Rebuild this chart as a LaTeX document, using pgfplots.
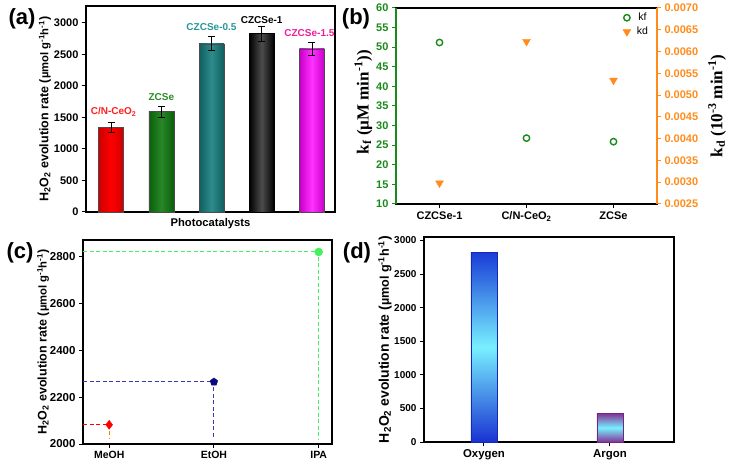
\documentclass[border=0pt]{standalone}
\usepackage{fontspec}
\setmainfont{Liberation Sans}
\newfontfamily\serifb{Liberation Serif}
\usepackage{pgfplots}
\pgfplotsset{compat=1.18}

\definecolor{kfgreen}{HTML}{1A8A1A}
\definecolor{kdorange}{HTML}{FF8C1A}
\definecolor{navyb}{HTML}{0A0A80}
\definecolor{dashblue}{HTML}{3A3AB0}
\definecolor{limeg}{HTML}{44F060}

\pgfplotsset{
  panel/.style={scale only axis, clip=false,
    axis line style={line width=1.3pt},
    major tick length=4pt,
    tick style={line width=1pt, black},
    tick align=outside, tick pos=left,
    ticklabel style={font=\fontsize{11}{12}\selectfont\bfseries},
    /pgf/number format/assume math mode=true,
    /pgf/number format/1000 sep={}},
}
\tikzset{h2label/.style={anchor=center, font=\fontsize{12.5}{14}\selectfont\bfseries}}
\newcommand{\hlabel}{H\textsubscript{2}O\textsubscript{2} evolution rate ({\fontsize{0.9em}{1em}\selectfont µmol g\textsuperscript{-1}h\textsuperscript{-1}})}

\begin{document}
\begin{tikzpicture}[x=1pt,y=1pt]
\path[use as bounding box] (0,0) rectangle (733,466);

% ---------- (a) ----------
\begin{axis}[panel, at={(86pt,254pt)}, anchor=south west,
    width=249pt, height=206pt,
    xmin=0.5, xmax=5.46, ymin=0, ymax=3265,
    ytick={0,500,...,3000}, xtick=\empty,
    ylabel={\hlabel},
    ylabel style={h2label, at={(axis description cs:-0.165,0.5)}},
    xlabel={Photocatalysts},
    xlabel style={anchor=center, at={(axis description cs:0.5,-0.055)},
      font=\fontsize{11.2}{12}\selectfont\bfseries},
    error bars/error bar style={black, line width=0.8pt},
    error bars/error mark options={rotate=90, black, mark size=3.5pt, line width=0.8pt}]
\addplot[ybar, bar shift=0pt, bar width=25pt, draw=black!70,
    left color=red!80!black, right color=red!80!black, middle color=red,
    error bars/.cd, y dir=both, y explicit]
  coordinates {(1,1347) +- (0,78)};
\addplot[ybar, bar shift=0pt, bar width=25pt, draw=black!70,
    left color={rgb,255:red,10;green,95;blue,10}, right color={rgb,255:red,10;green,95;blue,10},
    middle color={rgb,255:red,40;green,135;blue,40},
    error bars/.cd, y dir=both, y explicit]
  coordinates {(2,1590) +- (0,90)};
\addplot[ybar, bar shift=0pt, bar width=25pt, draw=black!70,
    left color={rgb,255:red,15;green,95;blue,95}, right color={rgb,255:red,15;green,95;blue,95},
    middle color={rgb,255:red,45;green,140;blue,140},
    error bars/.cd, y dir=both, y explicit]
  coordinates {(3,2667) +- (0,110)};
\addplot[ybar, bar shift=0pt, bar width=25pt, draw=black,
    left color=black, right color=black, middle color=black!70,
    error bars/.cd, y dir=both, y explicit]
  coordinates {(4,2826) +- (0,118)};
\addplot[ybar, bar shift=0pt, bar width=25pt, draw=black!70,
    left color={rgb,255:red,200;green,0;blue,200}, right color={rgb,255:red,200;green,0;blue,200},
    middle color={rgb,255:red,255;green,50;blue,255},
    error bars/.cd, y dir=both, y explicit]
  coordinates {(5,2588) +- (0,100)};
\node[font=\fontsize{10}{11}\selectfont\bfseries, text={rgb,255:red,255;green,30;blue,30}] at (axis cs:1.05,1585) {C/N-CeO\textsubscript{2}};
\node[font=\fontsize{10}{11}\selectfont\bfseries, text={rgb,255:red,40;green,140;blue,40}] at (axis cs:2,1827) {ZCSe};
\node[font=\fontsize{10}{11}\selectfont\bfseries, text={rgb,255:red,40;green,150;blue,150}] at (axis cs:3,2932) {CZCSe-0.5};
\node[font=\fontsize{10}{11}\selectfont\bfseries, text=black] at (axis cs:4,3043) {CZCSe-1};
\node[font=\fontsize{10}{11}\selectfont\bfseries, text={rgb,255:red,240;green,30;blue,150}] at (axis cs:4.95,2837) {CZCSe-1.5};
\end{axis}
\node[font=\fontsize{22}{24}\selectfont\bfseries] at (22,447) {(a)};

% ---------- (b) ----------
\begin{axis}[panel, at={(396pt,262pt)}, anchor=south west,
    width=261pt, height=196pt,
    xmin=0.5, xmax=3.5, ymin=10, ymax=60,
    ytick={10,15,...,60}, xtick={1,2,3},
    xticklabels={CZCSe-1, C/N-CeO\textsubscript{2}, ZCSe},
    y tick style={kfgreen}, yticklabel style={text=kfgreen},
    ylabel={k\textsubscript{f} (µM min\textsuperscript{-1}))},
    ylabel style={anchor=center, at={(axis description cs:-0.125,0.52)},
      font=\serifb\fontsize{17}{18}\selectfont\bfseries}]
\draw[kfgreen, line width=1.3pt] (rel axis cs:0,0) -- (rel axis cs:0,1);
\addplot[only marks, mark=o, kfgreen, mark size=3.2pt, mark options={line width=1.4pt}]
  coordinates {(1,51.2) (2,26.8) (3,25.9)};
\end{axis}
\begin{axis}[panel, at={(396pt,262pt)}, anchor=south west,
    width=261pt, height=196pt,
    xmin=0.5, xmax=3.5, ymin=0.0025, ymax=0.0070,
    axis y line*=right, axis x line=none, ytick pos=right,
    y axis line style={kdorange, line width=1.3pt},
    ytick={0.0025,0.0030,0.0035,0.0040,0.0045,0.0050,0.0055,0.0060,0.0065,0.0070},
    scaled y ticks=false,
    y tick style={kdorange},
    yticklabel style={text=kdorange, /pgf/number format/fixed,
      /pgf/number format/fixed zerofill, /pgf/number format/precision=4},
    ylabel={k\textsubscript{d} (10\textsuperscript{-3} min\textsuperscript{-1})},
    ylabel style={anchor=center, at={(axis description cs:1.23,0.5)},
      font=\serifb\fontsize{17}{18}\selectfont\bfseries},
    legend style={draw=none, fill=none, at={(0.985,0.995)}, anchor=north east,
      font=\fontsize{10.5}{12}\selectfont, row sep=1pt,
      /tikz/every odd column/.append style={column sep=4pt}}]
\addlegendimage{only marks, mark=o, kfgreen, mark size=3.2pt, mark options={line width=1.4pt}}
\addlegendentry{kf}
\addplot[only marks, mark=triangle*, kdorange, mark size=4.5pt, mark options={rotate=180}]
  coordinates {(1,0.00298) (2,0.00623) (3,0.00534)};
\addlegendentry{kd}
\end{axis}
\node[font=\fontsize{22}{24}\selectfont\bfseries] at (356,447) {(b)};

% ---------- (c) ----------
\begin{axis}[panel, at={(83pt,22pt)}, anchor=south west,
    width=249pt, height=204pt,
    xmin=0.75, xmax=3.127, ymin=2000, ymax=2871,
    ytick={2000,2200,...,2800}, xtick={1,2,3},
    xticklabels={MeOH, EtOH, IPA},
    yticklabel style={font=\fontsize{11.5}{12}\selectfont\bfseries},
    xticklabel style={font=\fontsize{10.5}{12}\selectfont\bfseries},
    ylabel={\hlabel},
    ylabel style={h2label, at={(axis description cs:-0.16,0.5)}}]
\addplot[red, line width=0.9pt, dash pattern=on 4pt off 2.5pt] coordinates {(0.75,2082) (1,2082)};
\addplot[orange, line width=0.9pt, dash pattern=on 4pt off 2.5pt] coordinates {(1,2082) (1,2025)};
\addplot[dashblue, line width=0.9pt, dash pattern=on 4pt off 2.5pt] coordinates {(0.75,2265) (2,2265) (2,2025)};
\addplot[limeg, line width=0.9pt, dash pattern=on 4pt off 2.5pt] coordinates {(0.75,2820) (3,2820) (3,2020)};
\addplot[only marks, mark=diamond*, red, mark size=4.5pt] coordinates {(1,2082)};
\addplot[only marks, mark=pentagon*, navyb, mark size=4pt] coordinates {(2,2265)};
\addplot[only marks, mark=*, limeg, mark size=4pt] coordinates {(3,2820)};
\end{axis}
\node[font=\fontsize{22}{24}\selectfont\bfseries] at (20,213) {(c)};

% ---------- (d) ----------
\begin{axis}[panel, at={(424pt,24pt)}, anchor=south west,
    width=250pt, height=205pt,
    xmin=0.524, xmax=2.508, ymin=0, ymax=3051,
    ytick={0,500,...,3000}, xtick={1,2},
    xticklabels={Oxygen, Argon},
    yticklabel style={font=\fontsize{10}{12}\selectfont\bfseries},
    xticklabel style={font=\fontsize{11.4}{12}\selectfont\bfseries},
    ylabel={\hlabel},
    ylabel style={h2label, font=\fontsize{14}{15}\selectfont\bfseries,
      at={(axis description cs:-0.156,0.5)}}]
\addplot[ybar, bar shift=0pt, bar width=26pt, draw={rgb,255:red,20;green,40;blue,180},
    top color={rgb,255:red,25;green,60;blue,215}, bottom color={rgb,255:red,25;green,50;blue,210},
    middle color={rgb,255:red,120;green,240;blue,255}]
  coordinates {(1,2821)};
\addplot[ybar, bar shift=0pt, bar width=26pt, draw={rgb,255:red,110;green,40;blue,130},
    top color={rgb,255:red,130;green,50;blue,150}, bottom color={rgb,255:red,130;green,50;blue,150},
    middle color={rgb,255:red,120;green,240;blue,255}]
  coordinates {(2,424)};
\end{axis}
\node[font=\fontsize{22}{24}\selectfont\bfseries] at (357,213) {(d)};
\end{tikzpicture}
\end{document}
